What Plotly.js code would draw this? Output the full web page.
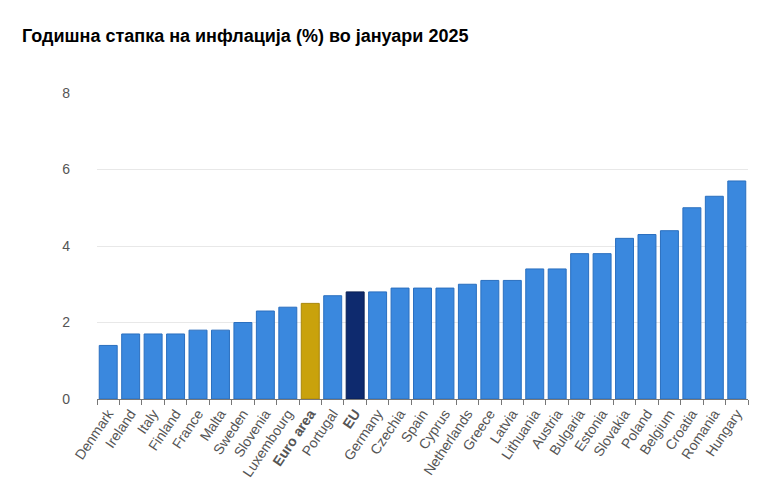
<!DOCTYPE html>
<html>
<head>
<meta charset="utf-8">
<script src="https://cdn.plot.ly/plotly-3.0.1.min.js"></script>
<style>
  html, body { margin: 0; padding: 0; background: #fff; }
  #chart { width: 765px; height: 479px; }
</style>
</head>
<body>
<div id="chart"></div>
<script>
var countries = ['Denmark', 'Ireland', 'Italy', 'Finland', 'France', 'Malta', 'Sweden',
  'Slovenia', 'Luxembourg', 'Euro area', 'Portugal', 'EU', 'Germany', 'Czechia', 'Spain',
  'Cyprus', 'Netherlands', 'Greece', 'Latvia', 'Lithuania', 'Austria', 'Bulgaria',
  'Estonia', 'Slovakia', 'Poland', 'Belgium', 'Croatia', 'Romania', 'Hungary'];
var inflation = [1.4, 1.7, 1.7, 1.7, 1.8, 1.8, 2.0,
  2.3, 2.4, 2.5, 2.7, 2.8, 2.8, 2.9, 2.9,
  2.9, 3.0, 3.1, 3.1, 3.4, 3.4, 3.8,
  3.8, 4.2, 4.3, 4.4, 5.0, 5.3, 5.7];
var yTicks = [0, 2, 4, 6, 8];

// euro area and EU get their own colour and a bold label
var fills = countries.map(function(c){
  if(c === 'Euro area') return '#c9a20c';
  if(c === 'EU') return '#0e2a6e';
  return '#3a88de';
});
var lines = countries.map(function(c){
  if(c === 'Euro area') return '#a8860a';
  if(c === 'EU') return '#0a1f52';
  return '#2a6fbf';
});
var tickText = countries.map(function(c){
  return (c === 'Euro area' || c === 'EU') ? '<b>' + c + '</b>' : c;
});

var data = [{
  type: 'bar',
  x: countries,
  y: inflation,
  marker: { color: fills, line: { color: lines, width: 1 } },
  hoverinfo: 'x+y'
}];

var layout = {
  width: 765,
  height: 479,
  margin: { l: 97, r: 17, t: 93, b: 80 },
  paper_bgcolor: '#fff',
  plot_bgcolor: '#fff',
  showlegend: false,
  bargap: 0.2,
  title: {
    text: '<b>Годишна стапка на инфлација (%) во јануари 2025</b>',
    x: 22 / 765,
    xanchor: 'left',
    y: 1 - 36 / 479,
    yanchor: 'middle',
    font: { family: 'Liberation Sans, Arial, sans-serif', size: 18, color: '#000' }
  },
  xaxis: {
    tickmode: 'array',
    tickvals: countries,
    ticktext: tickText,
    tickangle: -56,
    tickson: 'boundaries',
    ticks: 'outside',
    ticklen: 5,
    tickcolor: '#777',
    showline: true,
    linecolor: '#777',
    linewidth: 1,
    tickfont: { family: 'Liberation Sans, Arial, sans-serif', size: 14, color: '#555' },
    fixedrange: true
  },
  yaxis: {
    range: [0, 8],
    tickvals: yTicks,
    ticktext: yTicks.map(String),
    showgrid: true,
    gridcolor: '#e8e8e8',
    zeroline: false,
    ticks: '',
    ticklabelstandoff: 26,
    tickfont: { family: 'Liberation Sans, Arial, sans-serif', size: 14, color: '#555' },
    fixedrange: true
  }
};

Plotly.newPlot('chart', data, layout, { displayModeBar: false, staticPlot: true });
</script>
</body>
</html>
